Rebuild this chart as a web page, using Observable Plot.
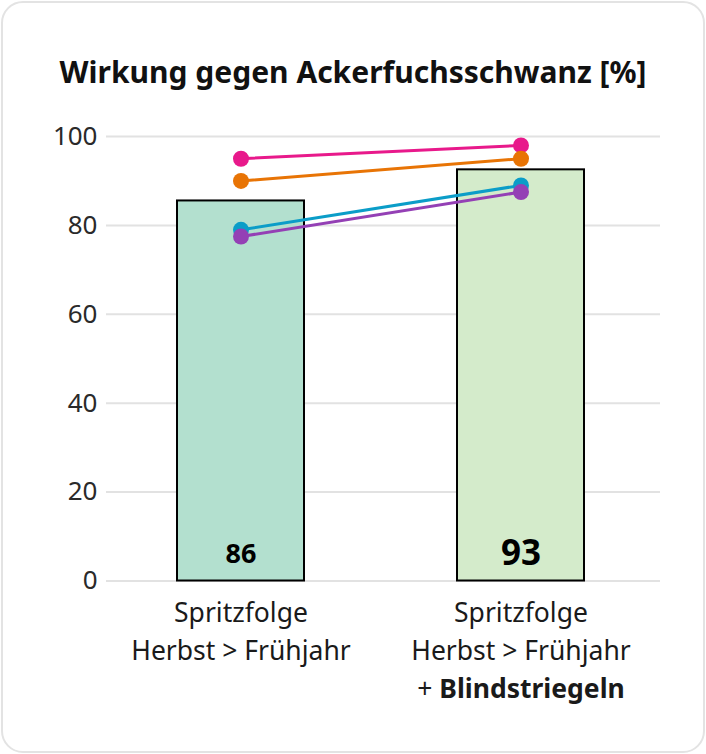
<!DOCTYPE html>
<html>
<head>
<meta charset="utf-8">
<script src="https://cdn.jsdelivr.net/npm/d3@7"></script>
<script src="https://cdn.jsdelivr.net/npm/@observablehq/plot@0.6"></script>
<style>
  html, body { margin: 0; padding: 0; background: #fff; }
  body { width: 706px; height: 754px; position: relative; font-family: "Noto Sans", sans-serif; overflow: hidden; }
  #card { position: absolute; left: 1px; top: 1px; width: 704px; height: 752px; box-sizing: border-box;
          border: 2px solid #e3e3e3; border-radius: 22px; }
  #title { position: absolute; left: 0; top: 53.5px; width: 706px; text-align: center; font-size: 30px;
           line-height: 36px; font-weight: 700; color: #111; }
  #chart { position: absolute; left: 0; top: 110px; }
</style>
</head>
<body>
<div id="card"></div>
<div id="title">Wirkung gegen Ackerfuchsschwanz [%]</div>
<div id="chart"></div>
<script>
// ---- data ----
const categories = ["Spritzfolge\nHerbst > Frühjahr", "Spritzfolge\nHerbst > Frühjahr\n+ Blindstriegeln"];
const barValues = [85.5, 92.5];
const seriesPink = [95, 98];
const seriesOrange = [90, 95];
const seriesBlue = [79, 89];
const seriesPurple = [77.5, 87.5];
const yTicks = [0, 20, 40, 60, 80, 100];

// ---- styles ----
const barColors = ["#b3e0cf", "#d4ebcb"];
const seriesList = [
  {values: seriesPink, color: "#e8198b"},
  {values: seriesOrange, color: "#e87405"},
  {values: seriesBlue, color: "#0b9dc8"},
  {values: seriesPurple, color: "#9440b5"}
];

const bars = categories.map((c, i) => ({cat: c, value: barValues[i]}));
const lineMarks = [];
for (const s of seriesList) {
  const pts = categories.map((c, i) => ({cat: c, value: s.values[i]}));
  lineMarks.push(Plot.line(pts, {x: "cat", y: "value", stroke: s.color, strokeWidth: 3}));
  lineMarks.push(Plot.dot(pts, {x: "cat", y: "value", fill: s.color, r: 8}));
}

const chart = Plot.plot({
  width: 706,
  height: 620,
  marginTop: 26,
  marginBottom: 149.5,
  marginLeft: 106,
  marginRight: 46,
  style: {fontFamily: "Noto Sans", background: "transparent"},
  x: {domain: categories, paddingInner: 0.548, paddingOuter: 0.263, align: 0.48, label: null},
  y: {domain: [0, 100], ticks: yTicks, label: null},
  color: {type: "identity"},
  marks: [
    Plot.gridY(yTicks, {stroke: "#e2e2e2", strokeOpacity: 1, strokeWidth: 2}),
    Plot.axisY(yTicks, {tickSize: 0, tickPadding: 9, fontSize: 26, fill: "#2a2a2a", label: null}),
    Plot.axisX({tickSize: 0, tickPadding: 14, fontSize: 26.5, lineHeight: 1.43, fill: "#1a1a1a", label: null}),
    Plot.barY(bars, {x: "cat", y: "value", fill: (d, i) => barColors[i], stroke: "#000", strokeWidth: 2}),
    ...lineMarks,
    Plot.text(bars, {x: "cat", y: 0, text: d => String(Math.round(d.value)), dy: -27,
      fontSize: (d, i) => i === 0 ? 27 : 35, fontWeight: "bold", fill: "#000"})
  ]
});
document.getElementById("chart").appendChild(chart);

// make "Blindstriegeln" bold within the tick label
chart.querySelectorAll("tspan").forEach(t => {
  if (t.textContent.includes("Blindstriegeln")) {
    t.textContent = "+ ";
    const b = document.createElementNS("http://www.w3.org/2000/svg", "tspan");
    b.setAttribute("font-weight", "bold");
    b.textContent = "Blindstriegeln";
    t.appendChild(b);
  }
});
</script>
</body>
</html>
